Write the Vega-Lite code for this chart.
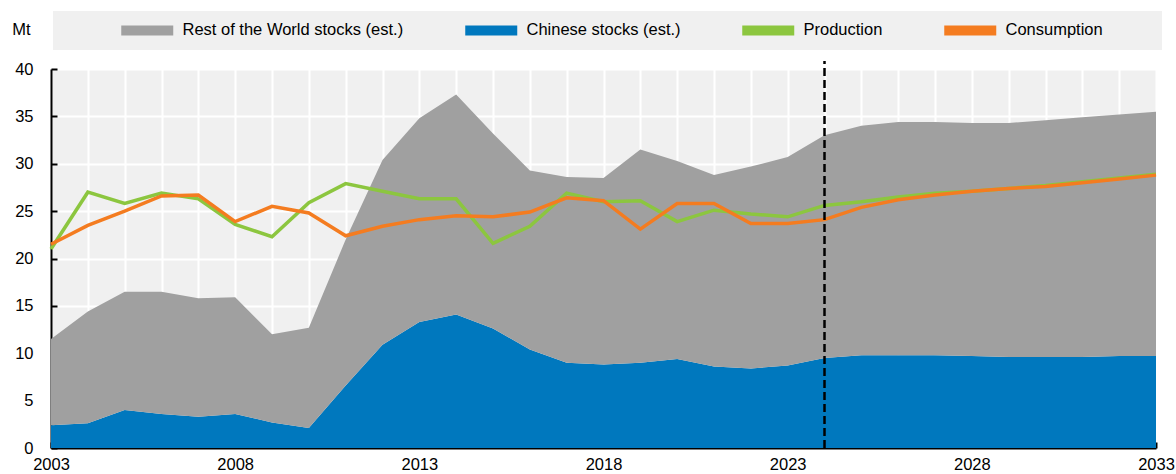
{
  "$schema": "https://vega.github.io/schema/vega-lite/v6.json",
  "width": 1105,
  "height": 379,
  "autosize": {"type": "none"},
  "padding": {"left": 51, "top": 69, "right": 20, "bottom": 26},
  "background": "white",
  "config": {
    "font": "Liberation Sans, Arial, sans-serif",
    "view": {"fill": "#f0f0f0", "stroke": null},
    "axis": {
      "labelFont": "Liberation Sans, Arial, sans-serif",
      "labelFontSize": 16.5,
      "labelColor": "black",
      "domainColor": "black",
      "domainWidth": 2,
      "tickColor": "black",
      "tickWidth": 2,
      "tickSize": -6,
      "gridColor": "white",
      "gridWidth": 2,
      "gridOpacity": 1
    }
  },
  "data": {
    "values": [
      {"year": 2003, "series": "Chinese stocks (est.)", "value": 2.4},
      {"year": 2004, "series": "Chinese stocks (est.)", "value": 2.6},
      {"year": 2005, "series": "Chinese stocks (est.)", "value": 4.0},
      {"year": 2006, "series": "Chinese stocks (est.)", "value": 3.6},
      {"year": 2007, "series": "Chinese stocks (est.)", "value": 3.3},
      {"year": 2008, "series": "Chinese stocks (est.)", "value": 3.6},
      {"year": 2009, "series": "Chinese stocks (est.)", "value": 2.7},
      {"year": 2010, "series": "Chinese stocks (est.)", "value": 2.1},
      {"year": 2011, "series": "Chinese stocks (est.)", "value": 6.6},
      {"year": 2012, "series": "Chinese stocks (est.)", "value": 10.9},
      {"year": 2013, "series": "Chinese stocks (est.)", "value": 13.3},
      {"year": 2014, "series": "Chinese stocks (est.)", "value": 14.1},
      {"year": 2015, "series": "Chinese stocks (est.)", "value": 12.6},
      {"year": 2016, "series": "Chinese stocks (est.)", "value": 10.4},
      {"year": 2017, "series": "Chinese stocks (est.)", "value": 9.0},
      {"year": 2018, "series": "Chinese stocks (est.)", "value": 8.8},
      {"year": 2019, "series": "Chinese stocks (est.)", "value": 9.0},
      {"year": 2020, "series": "Chinese stocks (est.)", "value": 9.4},
      {"year": 2021, "series": "Chinese stocks (est.)", "value": 8.6},
      {"year": 2022, "series": "Chinese stocks (est.)", "value": 8.4},
      {"year": 2023, "series": "Chinese stocks (est.)", "value": 8.7},
      {"year": 2024, "series": "Chinese stocks (est.)", "value": 9.5},
      {"year": 2025, "series": "Chinese stocks (est.)", "value": 9.8},
      {"year": 2026, "series": "Chinese stocks (est.)", "value": 9.8},
      {"year": 2027, "series": "Chinese stocks (est.)", "value": 9.8},
      {"year": 2028, "series": "Chinese stocks (est.)", "value": 9.7},
      {"year": 2029, "series": "Chinese stocks (est.)", "value": 9.6},
      {"year": 2030, "series": "Chinese stocks (est.)", "value": 9.6},
      {"year": 2031, "series": "Chinese stocks (est.)", "value": 9.6},
      {"year": 2032, "series": "Chinese stocks (est.)", "value": 9.7},
      {"year": 2033, "series": "Chinese stocks (est.)", "value": 9.7},
      {"year": 2003, "series": "Rest of the World stocks (est.)", "value": 9.1},
      {"year": 2004, "series": "Rest of the World stocks (est.)", "value": 11.8},
      {"year": 2005, "series": "Rest of the World stocks (est.)", "value": 12.5},
      {"year": 2006, "series": "Rest of the World stocks (est.)", "value": 12.9},
      {"year": 2007, "series": "Rest of the World stocks (est.)", "value": 12.5},
      {"year": 2008, "series": "Rest of the World stocks (est.)", "value": 12.3},
      {"year": 2009, "series": "Rest of the World stocks (est.)", "value": 9.3},
      {"year": 2010, "series": "Rest of the World stocks (est.)", "value": 10.6},
      {"year": 2011, "series": "Rest of the World stocks (est.)", "value": 15.4},
      {"year": 2012, "series": "Rest of the World stocks (est.)", "value": 19.5},
      {"year": 2013, "series": "Rest of the World stocks (est.)", "value": 21.5},
      {"year": 2014, "series": "Rest of the World stocks (est.)", "value": 23.2},
      {"year": 2015, "series": "Rest of the World stocks (est.)", "value": 20.6},
      {"year": 2016, "series": "Rest of the World stocks (est.)", "value": 18.9},
      {"year": 2017, "series": "Rest of the World stocks (est.)", "value": 19.6},
      {"year": 2018, "series": "Rest of the World stocks (est.)", "value": 19.7},
      {"year": 2019, "series": "Rest of the World stocks (est.)", "value": 22.5},
      {"year": 2020, "series": "Rest of the World stocks (est.)", "value": 20.9},
      {"year": 2021, "series": "Rest of the World stocks (est.)", "value": 20.2},
      {"year": 2022, "series": "Rest of the World stocks (est.)", "value": 21.3},
      {"year": 2023, "series": "Rest of the World stocks (est.)", "value": 22.0},
      {"year": 2024, "series": "Rest of the World stocks (est.)", "value": 23.5},
      {"year": 2025, "series": "Rest of the World stocks (est.)", "value": 24.2},
      {"year": 2026, "series": "Rest of the World stocks (est.)", "value": 24.6},
      {"year": 2027, "series": "Rest of the World stocks (est.)", "value": 24.6},
      {"year": 2028, "series": "Rest of the World stocks (est.)", "value": 24.6},
      {"year": 2029, "series": "Rest of the World stocks (est.)", "value": 24.7},
      {"year": 2030, "series": "Rest of the World stocks (est.)", "value": 25.0},
      {"year": 2031, "series": "Rest of the World stocks (est.)", "value": 25.3},
      {"year": 2032, "series": "Rest of the World stocks (est.)", "value": 25.5},
      {"year": 2033, "series": "Rest of the World stocks (est.)", "value": 25.8},
      {"year": 2003, "series": "Production", "value": 21.0},
      {"year": 2004, "series": "Production", "value": 27.0},
      {"year": 2005, "series": "Production", "value": 25.8},
      {"year": 2006, "series": "Production", "value": 26.9},
      {"year": 2007, "series": "Production", "value": 26.3},
      {"year": 2008, "series": "Production", "value": 23.6},
      {"year": 2009, "series": "Production", "value": 22.3},
      {"year": 2010, "series": "Production", "value": 25.9},
      {"year": 2011, "series": "Production", "value": 27.9},
      {"year": 2012, "series": "Production", "value": 27.1},
      {"year": 2013, "series": "Production", "value": 26.3},
      {"year": 2014, "series": "Production", "value": 26.3},
      {"year": 2015, "series": "Production", "value": 21.6},
      {"year": 2016, "series": "Production", "value": 23.4},
      {"year": 2017, "series": "Production", "value": 26.9},
      {"year": 2018, "series": "Production", "value": 26.0},
      {"year": 2019, "series": "Production", "value": 26.1},
      {"year": 2020, "series": "Production", "value": 23.9},
      {"year": 2021, "series": "Production", "value": 25.1},
      {"year": 2022, "series": "Production", "value": 24.7},
      {"year": 2023, "series": "Production", "value": 24.4},
      {"year": 2024, "series": "Production", "value": 25.6},
      {"year": 2025, "series": "Production", "value": 26.0},
      {"year": 2026, "series": "Production", "value": 26.5},
      {"year": 2027, "series": "Production", "value": 26.9},
      {"year": 2028, "series": "Production", "value": 27.1},
      {"year": 2029, "series": "Production", "value": 27.4},
      {"year": 2030, "series": "Production", "value": 27.7},
      {"year": 2031, "series": "Production", "value": 28.1},
      {"year": 2032, "series": "Production", "value": 28.5},
      {"year": 2033, "series": "Production", "value": 28.9},
      {"year": 2003, "series": "Consumption", "value": 21.5},
      {"year": 2004, "series": "Consumption", "value": 23.5},
      {"year": 2005, "series": "Consumption", "value": 25.0},
      {"year": 2006, "series": "Consumption", "value": 26.6},
      {"year": 2007, "series": "Consumption", "value": 26.7},
      {"year": 2008, "series": "Consumption", "value": 23.9},
      {"year": 2009, "series": "Consumption", "value": 25.5},
      {"year": 2010, "series": "Consumption", "value": 24.8},
      {"year": 2011, "series": "Consumption", "value": 22.4},
      {"year": 2012, "series": "Consumption", "value": 23.4},
      {"year": 2013, "series": "Consumption", "value": 24.1},
      {"year": 2014, "series": "Consumption", "value": 24.5},
      {"year": 2015, "series": "Consumption", "value": 24.4},
      {"year": 2016, "series": "Consumption", "value": 24.9},
      {"year": 2017, "series": "Consumption", "value": 26.4},
      {"year": 2018, "series": "Consumption", "value": 26.1},
      {"year": 2019, "series": "Consumption", "value": 23.1},
      {"year": 2020, "series": "Consumption", "value": 25.8},
      {"year": 2021, "series": "Consumption", "value": 25.8},
      {"year": 2022, "series": "Consumption", "value": 23.7},
      {"year": 2023, "series": "Consumption", "value": 23.7},
      {"year": 2024, "series": "Consumption", "value": 24.1},
      {"year": 2025, "series": "Consumption", "value": 25.4},
      {"year": 2026, "series": "Consumption", "value": 26.2},
      {"year": 2027, "series": "Consumption", "value": 26.7},
      {"year": 2028, "series": "Consumption", "value": 27.1},
      {"year": 2029, "series": "Consumption", "value": 27.4},
      {"year": 2030, "series": "Consumption", "value": 27.6},
      {"year": 2031, "series": "Consumption", "value": 28.0},
      {"year": 2032, "series": "Consumption", "value": 28.4},
      {"year": 2033, "series": "Consumption", "value": 28.8}
    ]
  },
  "encoding": {
    "x": {
      "field": "year",
      "type": "quantitative",
      "scale": {"domain": [2003, 2033], "nice": false, "zero": false},
      "axis": {
        "title": null,
        "values": [2003,2004,2005,2006,2007,2008,2009,2010,2011,2012,2013,2014,2015,2016,2017,2018,2019,2020,2021,2022,2023,2024,2025,2026,2027,2028,2029,2030,2031,2032,2033],
        "format": "d",
        "labelExpr": "(datum.value - 2003) % 5 == 0 ? datum.label : ''",
        "labelOverlap": false,
        "labelFlush": false,
        "labelPadding": 14
      }
    }
  },
  "layer": [
    {
      "transform": [{"filter": "datum.series == 'Chinese stocks (est.)' || datum.series == 'Rest of the World stocks (est.)'"}],
      "mark": {"type": "area", "opacity": 1, "interpolate": "linear"},
      "encoding": {
        "y": {
          "field": "value",
          "type": "quantitative",
          "stack": "zero",
          "scale": {"domain": [0, 40], "nice": false},
          "axis": {
            "title": "Mt",
            "titleAngle": 0,
            "titleX": -30,
            "titleY": -40,
            "titleAlign": "center",
            "titleBaseline": "middle",
            "titleFont": "Liberation Sans, Arial, sans-serif",
            "titleFontSize": 16.5,
            "titleFontWeight": "normal",
            "titleColor": "black",
            "values": [0, 5, 10, 15, 20, 25, 30, 35, 40],
            "labelPadding": 24
          }
        },
        "color": {
          "field": "series",
          "type": "nominal",
          "scale": {
            "domain": ["Rest of the World stocks (est.)", "Chinese stocks (est.)", "Production", "Consumption"],
            "range": ["#a0a0a0", "#0078be", "#8cc63f", "#f47c20"]
          },
          "legend": {
            "orient": "none",
            "legendX": 2,
            "legendY": -58,
            "direction": "horizontal",
            "fillColor": "#f0f0f0",
            "padding": 11,
            "title": "\u00a0",
            "titleOrient": "left",
            "titleFontSize": 1,
            "titlePadding": 54,
            "columnPadding": 58,
            "labelFont": "Liberation Sans, Arial, sans-serif",
            "labelFontSize": 16.5,
            "labelColor": "black",
            "labelLimit": 400,
            "labelOffset": 48,
            "symbolSize": 100,
            "symbolStrokeWidth": 0,
            "symbolType": "M-1,-1L9.4,-1L9.4,1L-1,1Z",
            "labelExpr": "datum.label == 'Consumption' ? 'Consumption\u2800\u2800\u2800\u2800' : datum.label",
            "encode": {
              "symbols": {
                "shape": [
                  {"test": "datum.value == 'Production' || datum.value == 'Consumption'", "value": "M-1,-0.4L9.4,-0.4L9.4,0.4L-1,0.4Z"},
                  {"value": "M-1,-1L9.4,-1L9.4,1L-1,1Z"}
                ],
                "fill": {"scale": "color", "field": "value"},
                "fillOpacity": {"value": 1},
                "opacity": {"value": 1},
                "strokeWidth": {"value": 0}
              }
            }
          }
        },
        "order": {"field": "series", "sort": "ascending"}
      }
    },
    {
      "transform": [{"filter": "datum.series == 'Production' || datum.series == 'Consumption'"}],
      "mark": {"type": "line", "strokeWidth": 3.5, "interpolate": "linear"},
      "encoding": {
        "y": {"field": "value", "type": "quantitative", "stack": null},
        "color": {"field": "series", "type": "nominal"}
      }
    },
    {
      "data": {"values": [{"year": 2024}]},
      "mark": {"type": "rule", "color": "black", "strokeWidth": 2.5, "strokeDash": [8, 4]},
      "encoding": {
        "y": {"datum": 0},
        "y2": {"datum": 40.85}
      }
    }
  ]
}
